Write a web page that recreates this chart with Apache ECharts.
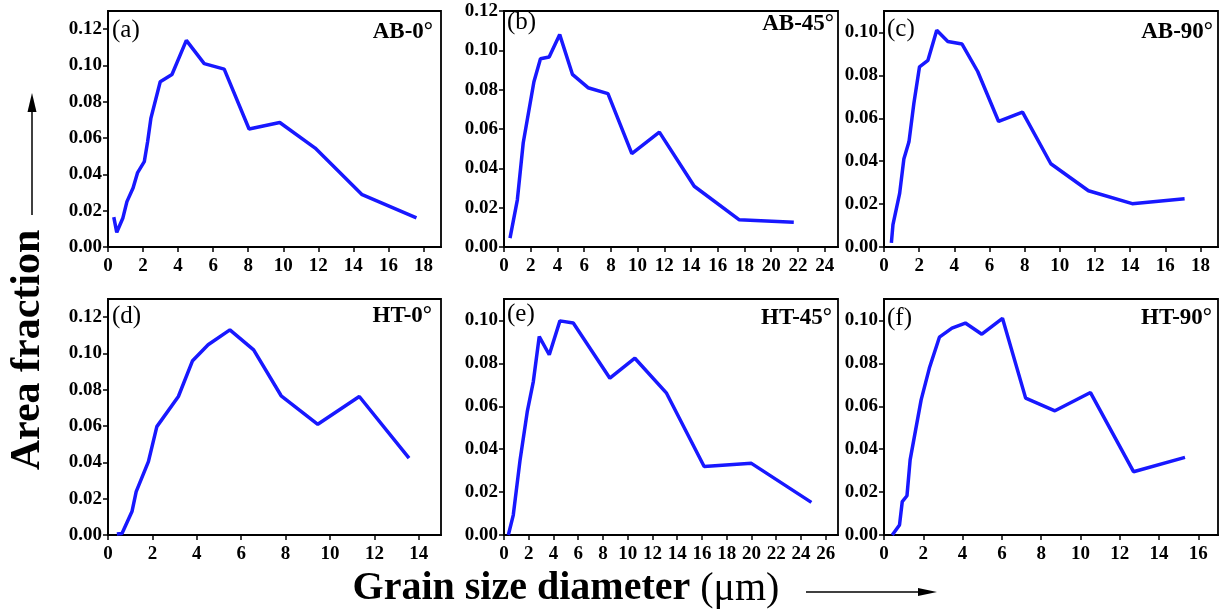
<!DOCTYPE html>
<html>
<head>
<meta charset="utf-8">
<script src="https://cdn.jsdelivr.net/npm/echarts@6/dist/echarts.min.js"></script>
<style>
  html, body { margin: 0; padding: 0; background: #fff; }
  #main { width: 1230px; height: 614px; }
</style>
</head>
<body>
<div id="main"></div>
<script>
// 数据: 每个面板的晶粒尺寸 (x) 和面积分数 (y)
var xA = [0.33, 0.5, 0.85, 1.08, 1.43, 1.69, 2.07, 2.26, 2.45, 2.98, 3.65, 4.47, 5.49, 6.63, 8.05, 9.8, 11.82, 14.5, 17.6];
var yA = [0.0165, 0.0081, 0.016, 0.025, 0.0325, 0.041, 0.047, 0.058, 0.071, 0.091, 0.095, 0.1138, 0.101, 0.098, 0.065, 0.0686, 0.0545, 0.0288, 0.016];

var xB = [0.45, 0.55, 1.0, 1.44, 2.24, 2.73, 3.38, 4.17, 5.12, 6.29, 7.78, 9.57, 11.63, 14.24, 17.59, 21.69];
var yB = [0.0045, 0.004, 0.024, 0.053, 0.084, 0.0957, 0.0966, 0.108, 0.0878, 0.081, 0.078, 0.0475, 0.0584, 0.0309, 0.0139, 0.0126];

var xC = [0.42, 0.51, 0.89, 1.13, 1.42, 1.7, 2.02, 2.5, 3.0, 3.63, 4.44, 5.33, 6.52, 7.88, 9.49, 11.63, 14.12, 17.1];
var yC = [0.0019, 0.0104, 0.025, 0.041, 0.049, 0.067, 0.084, 0.087, 0.101, 0.0958, 0.0946, 0.0818, 0.0585, 0.0629, 0.0388, 0.0262, 0.0202, 0.0225];

var xD = [0.4, 0.63, 1.08, 1.27, 1.82, 2.2, 3.17, 3.81, 4.51, 5.49, 6.56, 7.8, 9.45, 11.32, 13.56];
var yD = [0.0005, 0.0008, 0.0129, 0.0239, 0.0404, 0.0597, 0.0763, 0.096, 0.1048, 0.113, 0.102, 0.0767, 0.061, 0.0763, 0.0423];

var xE = [0.35, 0.75, 1.3, 1.88, 2.37, 2.85, 3.66, 4.52, 5.6, 8.56, 10.58, 13.14, 16.18, 20.0, 24.85];
var yE = [0.0, 0.0093, 0.035, 0.0575, 0.0715, 0.0925, 0.084, 0.0998, 0.0988, 0.0731, 0.0824, 0.0661, 0.0319, 0.0334, 0.0152];

var xF = [0.42, 0.79, 0.93, 1.17, 1.33, 1.89, 2.31, 2.82, 3.46, 4.14, 4.98, 6.03, 7.21, 8.7, 10.51, 12.7, 15.32];
var yF = [0.0, 0.0047, 0.0156, 0.0183, 0.035, 0.063, 0.0778, 0.0922, 0.0964, 0.0988, 0.0936, 0.101, 0.0638, 0.0579, 0.0664, 0.0295, 0.0362];

// 刻度
var yTicks12 = [0, 0.02, 0.04, 0.06, 0.08, 0.10, 0.12];
var yTicks10 = [0, 0.02, 0.04, 0.06, 0.08, 0.10];
var xTicks14 = [0, 2, 4, 6, 8, 10, 12, 14];
var xTicks16 = [0, 2, 4, 6, 8, 10, 12, 14, 16];
var xTicks18 = [0, 2, 4, 6, 8, 10, 12, 14, 16, 18];
var xTicks24 = [0, 2, 4, 6, 8, 10, 12, 14, 16, 18, 20, 22, 24];
var xTicks26 = [0, 2, 4, 6, 8, 10, 12, 14, 16, 18, 20, 22, 24, 26];

var panelTags = ['(a)', '(b)', '(c)', '(d)', '(e)', '(f)'];
var panelNames = ['AB-0°', 'AB-45°', 'AB-90°', 'HT-0°', 'HT-45°', 'HT-90°'];

var serif = '"Liberation Serif", "Times New Roman", serif';

var panels = [
  { xs: xA, ys: yA, xMax: 19, yMax: 0.13, xT: xTicks18, yT: yTicks12, left: 108, top: 11, w: 333 },
  { xs: xB, ys: yB, xMax: 25, yMax: 0.12, xT: xTicks24, yT: yTicks12, left: 504, top: 11, w: 334 },
  { xs: xC, ys: yC, xMax: 19, yMax: 0.11, xT: xTicks18, yT: yTicks10, left: 884, top: 11, w: 334 },
  { xs: xD, ys: yD, xMax: 15, yMax: 0.13, xT: xTicks14, yT: yTicks12, left: 108, top: 299, w: 333 },
  { xs: xE, ys: yE, xMax: 27, yMax: 0.11, xT: xTicks26, yT: yTicks10, left: 504, top: 299, w: 334 },
  { xs: xF, ys: yF, xMax: 17, yMax: 0.11, xT: xTicks16, yT: yTicks10, left: 884, top: 299, w: 334 }
];
var plotH = 236;

var chart = echarts.init(document.getElementById('main'));

var grids = [], xAxes = [], yAxes = [], series = [], graphics = [];

// 标签位置 (左上角编号 / 右上角样品名)
var tagPos = [[112, 30], [507, 22], [887, 29], [112, 316], [507, 314], [887, 318]];
var namePos = [[433, 32], [834, 24], [1213, 32], [432, 316], [832, 318], [1212, 318]];

panels.forEach(function (p, i) {
  grids.push({
    left: p.left, top: p.top, width: p.w, height: plotH,
    show: true, borderColor: '#000', borderWidth: 1.8, backgroundColor: 'transparent'
  });
  xAxes.push({
    type: 'value', gridIndex: i, min: 0, max: p.xMax,
    axisLine: { show: true, onZero: false, lineStyle: { color: '#000', width: 1.8 } },
    axisTick: { show: true, inside: false, length: 5, customValues: p.xT, lineStyle: { color: '#000', width: 1.5 } },
    axisLabel: {
      customValues: p.xT, margin: 10,
      color: '#000', fontFamily: serif, fontWeight: 'bold', fontSize: 19
    },
    splitLine: { show: false }
  });
  yAxes.push({
    type: 'value', gridIndex: i, min: 0, max: p.yMax,
    axisLine: { show: true, lineStyle: { color: '#000', width: 1.8 } },
    axisTick: { show: true, inside: false, length: 5, customValues: p.yT, lineStyle: { color: '#000', width: 1.5 } },
    axisLabel: {
      customValues: p.yT, margin: 6,
      color: '#000', fontFamily: serif, fontWeight: 'bold', fontSize: 19,
      formatter: function (v) { return v.toFixed(2); }
    },
    splitLine: { show: false }
  });
  series.push({
    type: 'line', xAxisIndex: i, yAxisIndex: i,
    data: p.xs.map(function (x, k) { return [x, p.ys[k]]; }),
    symbol: 'none', smooth: false,
    lineStyle: { color: '#1818ff', width: 3.5 }
  });
  graphics.push({
    type: 'text', x: tagPos[i][0], y: tagPos[i][1],
    style: { text: panelTags[i], fontFamily: serif, fontSize: 25, fill: '#000', align: 'left', verticalAlign: 'middle' }
  });
  graphics.push({
    type: 'text', x: namePos[i][0], y: namePos[i][1],
    style: { text: panelNames[i], fontFamily: serif, fontWeight: 'bold', fontSize: 23, fill: '#000', align: 'right', verticalAlign: 'middle' }
  });
});

// 坐标轴标题和箭头
graphics.push({
  type: 'text', x: 28, y: 350, rotation: Math.PI / 2,
  style: { text: 'Area fraction', fontFamily: serif, fontWeight: 'bold', fontSize: 42, fill: '#000', align: 'center', verticalAlign: 'middle' }
});
graphics.push({ type: 'line', shape: { x1: 32, y1: 215, x2: 32, y2: 108 }, style: { stroke: '#000', lineWidth: 1.5 } });
graphics.push({ type: 'polygon', shape: { points: [[32, 93], [27.5, 112], [36.5, 112]] }, style: { fill: '#000' } });

graphics.push({
  type: 'text', x: 566, y: 589,
  style: {
    text: '{b|Grain size diameter }{r|(μm)}', align: 'center', verticalAlign: 'middle',
    rich: {
      b: { fontFamily: serif, fontWeight: 'bold', fontSize: 40, fill: '#000' },
      r: { fontFamily: serif, fontWeight: 'normal', fontSize: 40, fill: '#000' }
    }
  }
});
graphics.push({ type: 'line', shape: { x1: 806, y1: 592, x2: 922, y2: 592 }, style: { stroke: '#000', lineWidth: 1.5 } });
graphics.push({ type: 'polygon', shape: { points: [[937, 592], [918, 588], [918, 596]] }, style: { fill: '#000' } });

var option = {
  backgroundColor: '#fff',
  animation: false,
  grid: grids,
  xAxis: xAxes,
  yAxis: yAxes,
  series: series,
  graphic: graphics
};
chart.setOption(option);
</script>
</body>
</html>
